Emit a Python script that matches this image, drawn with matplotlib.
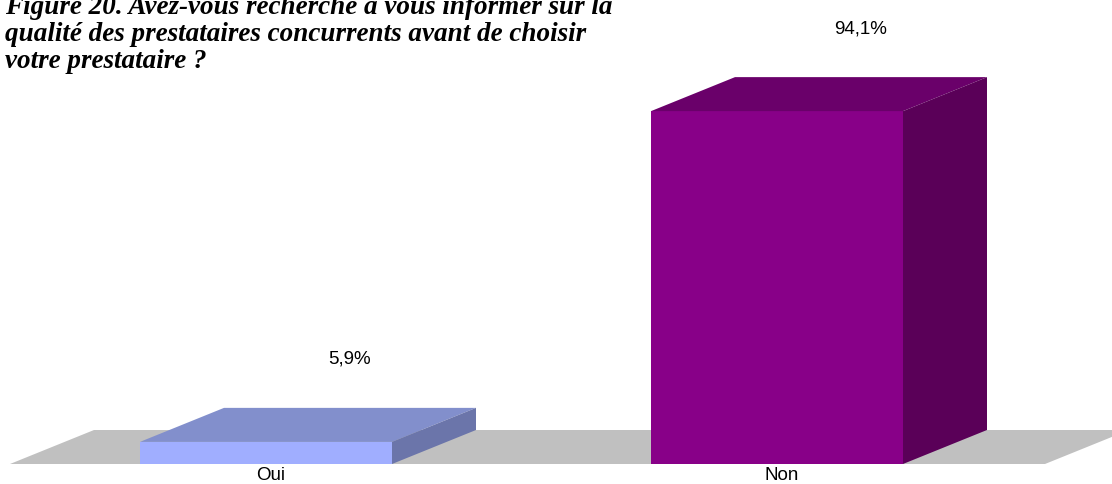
import matplotlib
matplotlib.use("Agg")
import matplotlib.pyplot as plt
from matplotlib.patches import Polygon

categories = ["Oui", "Non"]
values = [5.9, 94.1]
value_labels = ["5,9%", "94,1%"]
title_lines = ["Figure 20. Avez-vous recherché à vous informer sur la",
               "qualité des prestataires concurrents avant de choisir",
               "votre prestataire ?"]

front_colors = ["#A0AEFF", "#880088"]
top_colors = ["#828FCC", "#6A006A"]
side_colors = ["#6B75AA", "#5A0058"]
floor_color = "#C0C0C0"

W, H = 1112, 484
fig = plt.figure(figsize=(W / 100, H / 100), dpi=100)
ax = fig.add_axes([0, 0, 1, 1])
ax.set_axis_off()

# scale: 1 x-unit = 511 px, 1 % = 3.75 px ; baseline at pixel 464, cat 0 at pixel 266
px_x, px_y = 511.0, 3.75
x0_px, y0_px = 266.0, 464.0
ax.set_xlim((0 - x0_px) / px_x, (W - x0_px) / px_x)
ax.set_ylim((y0_px - H) / px_y, y0_px / px_y)

bw = 252 / px_x
ddx = 84 / px_x
ddy = 34 / px_y

# floor
fl, fr = (10 - x0_px) / px_x, (1045 - x0_px) / px_x
ax.add_patch(Polygon([(fl, 0), (fr, 0), (fr + ddx, ddy), (fl + ddx, ddy)],
                     closed=True, facecolor=floor_color, edgecolor="none", zorder=1))

xs = list(range(len(categories)))
bars = ax.bar(xs, values, width=bw, color=front_colors, edgecolor="none", zorder=3)
for i, (b, v) in enumerate(zip(bars, values)):
    l, r = b.get_x(), b.get_x() + b.get_width()
    ax.add_patch(Polygon([(l, v), (r, v), (r + ddx, v + ddy), (l + ddx, v + ddy)],
                         closed=True, facecolor=top_colors[i], edgecolor="none", zorder=3))
    ax.add_patch(Polygon([(r, 0), (r + ddx, ddy), (r + ddx, v + ddy), (r, v)],
                         closed=True, facecolor=side_colors[i], edgecolor="none", zorder=3))
    ax.text(xs[i] + 0.163, v + ddy + 12.9, value_labels[i], ha="center", va="center",
            fontsize=13.5, family="Liberation Sans", color="#000000")
    ax.text(xs[i] + 0.01, -3.2, categories[i], ha="center", va="center",
            fontsize=13.5, family="Liberation Sans", color="#000000")

baselines_px = [14, 41, 68]
for line, bpx in zip(title_lines, baselines_px):
    fig.text(5 / W, 1 - bpx / H, line, ha="left", va="baseline", fontsize=19.5,
             family="Liberation Serif", fontweight="bold", fontstyle="italic")

fig.savefig("out.png", dpi=100, facecolor="white")
